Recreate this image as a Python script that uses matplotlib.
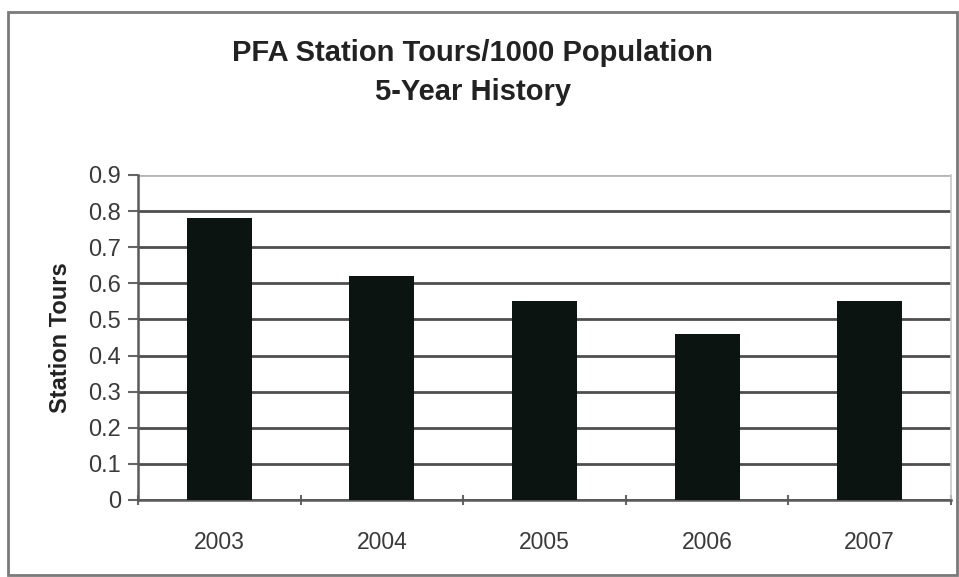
import matplotlib
matplotlib.use("Agg")
import matplotlib.pyplot as plt
from matplotlib.patches import Rectangle
import numpy as np

plt.rcParams['font.family'] = ['Liberation Sans', 'DejaVu Sans']

years = ["2003", "2004", "2005", "2006", "2007"]
tours_per_1000 = [0.78, 0.62, 0.55, 0.46, 0.55]
y_ticks = [0, 0.1, 0.2, 0.3, 0.4, 0.5, 0.6, 0.7, 0.8, 0.9]
y_tick_labels = ["0", "0.1", "0.2", "0.3", "0.4", "0.5", "0.6", "0.7", "0.8", "0.9"]

fig = plt.figure(figsize=(9.59, 5.77), dpi=100)
fig.patch.set_facecolor("white")

# chart frame
fig.patches.append(Rectangle((8 / 959, 0.003), 0.99, 1 - 12 / 577 - 0.003,
                             transform=fig.transFigure, fill=False,
                             edgecolor="#7a7a7a", linewidth=2.0))

ax = fig.add_axes([138 / 959, 77 / 577, (951 - 138) / 959, (500 - 175) / 577])
x = np.arange(len(years))
ax.bar(x, tours_per_1000, width=0.4, color="#0b1410", zorder=3)

ax.set_xlim(-0.5, len(years) - 0.5)
ax.set_ylim(0, 0.9)
ax.set_yticks(y_ticks)
ax.set_yticklabels(y_tick_labels, fontsize=17, color="#3a3a3a")
ax.yaxis.grid(True, color="#4e4e4e", linewidth=2.0, zorder=1)
# lighter top gridline
ax.get_ygridlines()[-1].set_color("#b5b5b5")

# category boundary ticks on x, labels at centres
ax.set_xticks(np.arange(len(years) + 1) - 0.5)
ax.set_xticklabels([])
ax.set_xticks(x, minor=True)
ax.set_xticklabels(years, minor=True, fontsize=16.5, color="#3a3a3a")
ax.tick_params(axis="x", which="minor", length=0, pad=22)
ax.tick_params(axis="x", which="major", length=7, width=1.5, color="#666666", direction="inout")
ax.tick_params(axis="y", length=7, width=1.5, color="#666666", pad=5)

ax.spines["top"].set_visible(False)
ax.spines["right"].set_color("#c8c8c8")
ax.spines["right"].set_linewidth(1.2)
ax.spines["left"].set_color("#5a5a5a")
ax.spines["left"].set_linewidth(1.8)
ax.spines["bottom"].set_color("#5a5a5a")
ax.spines["bottom"].set_linewidth(1.8)

ax.set_ylabel("Station Tours", fontsize=17, fontweight="bold", color="#222222", labelpad=12)

fig.text(0.493, 1 - 53 / 577, "PFA Station Tours/1000 Population", ha="center", va="center",
         fontsize=21, fontweight="bold", color="#222222")
fig.text(0.493, 1 - 92 / 577, "5-Year History", ha="center", va="center",
         fontsize=21, fontweight="bold", color="#222222")

fig.savefig("out.png", dpi=100, facecolor="white")
